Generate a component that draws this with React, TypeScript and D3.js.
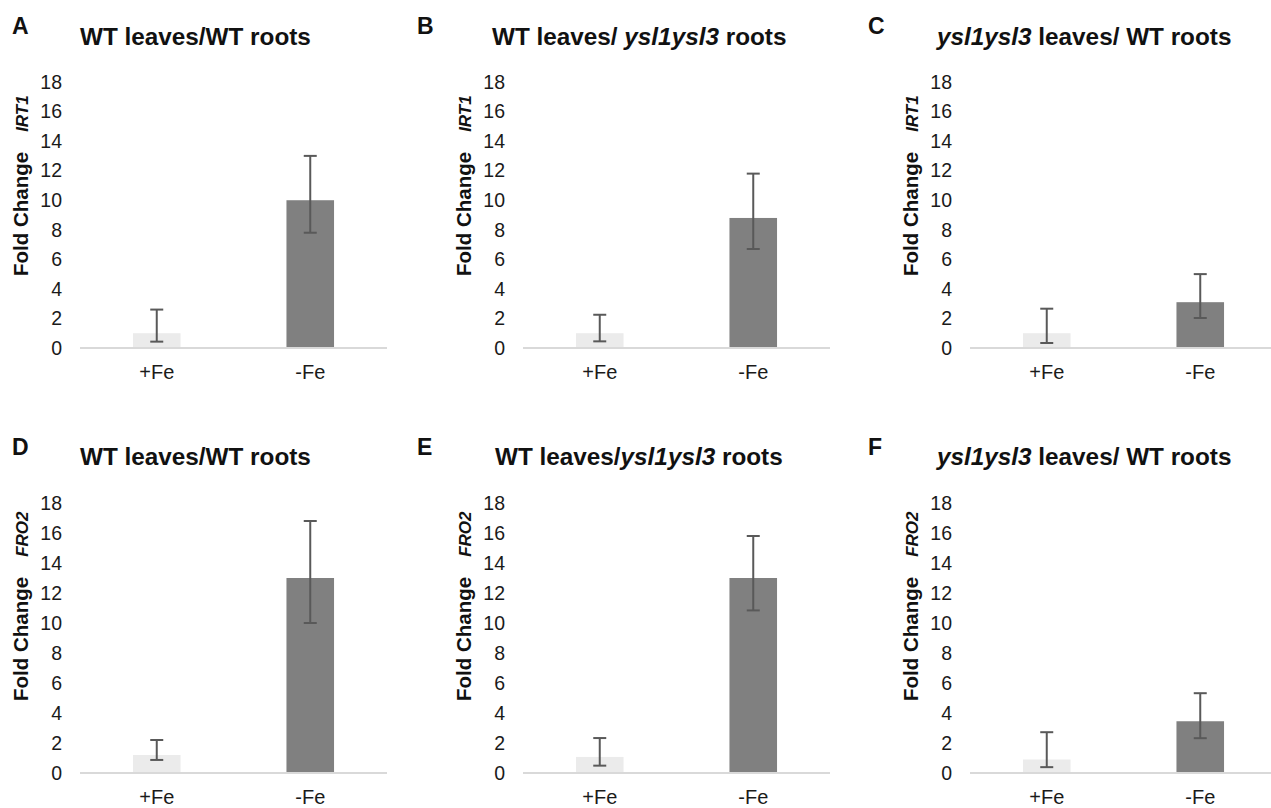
import React from 'react'
import * as d3 from 'd3'

// conditions on the x axis
const categories = ['+Fe', '-Fe']
const yTicks = [0, 2, 4, 6, 8, 10, 12, 14, 16, 18]

const panelLetters = ['A', 'B', 'C', 'D', 'E', 'F']
// title pieces: [text, italic]
const titles: [string, boolean][][] = [
	[['WT leaves/WT roots', false]],
	[['WT leaves/ ', false], ['ysl1ysl3', true], [' roots', false]],
	[['ysl1ysl3', true], [' leaves/ WT roots', false]],
	[['WT leaves/WT roots', false]],
	[['WT leaves/', false], ['ysl1ysl3', true], [' roots', false]],
	[['ysl1ysl3', true], [' leaves/ WT roots', false]]
]
const genes = ['IRT1', 'IRT1', 'IRT1', 'FRO2', 'FRO2', 'FRO2']

// fold change, +Fe then -Fe
const foldChange = [
	[1.0, 10.0],
	[1.0, 8.8],
	[1.0, 3.1],
	[1.2, 13.0],
	[1.07, 13.0],
	[0.9, 3.45]
]
const errHigh = [
	[2.6, 13.0],
	[2.25, 11.8],
	[2.66, 5.0],
	[2.2, 16.8],
	[2.33, 15.8],
	[2.72, 5.32]
]
const errLow = [
	[0.43, 7.8],
	[0.45, 6.7],
	[0.34, 2.03],
	[0.87, 10.0],
	[0.49, 10.84],
	[0.39, 2.32]
]

const font = '"Liberation Sans", Arial, Helvetica, sans-serif'
const colLeft = [80, 523, 970]
const titleX = [[80, 492, 937], [80, 495, 937]]
const letterX = [12, 417, 868]
const rowY0 = [348, 773]
const rowY18 = [82, 503]
const plotW = 307
const barColors = ['#ebebeb', '#808080']

function Panel({ i }: { i: number }) {
	const col = i % 3
	const row = Math.floor(i / 3)
	const left = colLeft[col]
	const y0 = rowY0[row]

	const x = d3.scaleBand().domain(categories).range([left, left + plotW])
	const y = d3.scaleLinear().domain([0, 18]).range([y0, rowY18[row]])
	const barW = x.bandwidth() * 0.31
	const capW = 13

	return (
		<g>
			<text x={letterX[col]} y={row === 0 ? 34 : 455} fontSize={23} fontWeight="bold" fill="#111">
				{panelLetters[i]}
			</text>
			<text x={titleX[row][col]} y={row === 0 ? 45 : 465} fontSize={24.3} fontWeight="bold" fill="#111">
				{titles[i].map(([t, it], k) => (
					<tspan key={k} fontStyle={it ? 'italic' : 'normal'}>{t}</tspan>
				))}
			</text>

			{/* y axis title */}
			<text
				transform={`translate(${left - 52}, ${y0 - 72}) rotate(-90)`}
				fontSize={20.5}
				fontWeight="bold"
				fill="#111"
			>
				<tspan>Fold Change</tspan>
				<tspan dx={20} style={{ fontSize: '17px', fontStyle: 'italic' }}>{genes[i]}</tspan>
			</text>

			{yTicks.map(t => (
				<text key={t} x={left - 18} y={y(t)} dy="0.35em" textAnchor="end" fontSize={19.5} fill="#1a1a1a">
					{t}
				</text>
			))}

			{categories.map((c, k) => {
				const cx = x(c)! + x.bandwidth() / 2
				const v = foldChange[i][k]
				return (
					<rect key={c} x={cx - barW / 2} y={y(v)} width={barW} height={y0 - y(v)} fill={barColors[k]} />
				)
			})}

			<line x1={left} x2={left + plotW} y1={y0} y2={y0} stroke="#d9d9d9" strokeWidth={2} />

			{categories.map((c, k) => {
				const cx = x(c)! + x.bandwidth() / 2
				const hi = y(errHigh[i][k])
				const lo = y(errLow[i][k])
				return (
					<g key={c} stroke="#595959" strokeWidth={2}>
						<line x1={cx} x2={cx} y1={hi} y2={lo} />
						<line x1={cx - capW / 2} x2={cx + capW / 2} y1={hi} y2={hi} />
						<line x1={cx - capW / 2} x2={cx + capW / 2} y1={lo} y2={lo} />
					</g>
				)
			})}

			{categories.map(c => (
				<text key={c} x={x(c)! + x.bandwidth() / 2} y={y0 + 31} textAnchor="middle" fontSize={20} fill="#1a1a1a">
					{c}
				</text>
			))}
		</g>
	)
}

export default function App() {
	return (
		<svg
			width={1271}
			height={808}
			style={{ position: 'absolute', left: 0, top: 0, background: '#fff' }}
			fontFamily={font}
		>
			{panelLetters.map((_, i) => <Panel key={i} i={i} />)}
		</svg>
	)
}
